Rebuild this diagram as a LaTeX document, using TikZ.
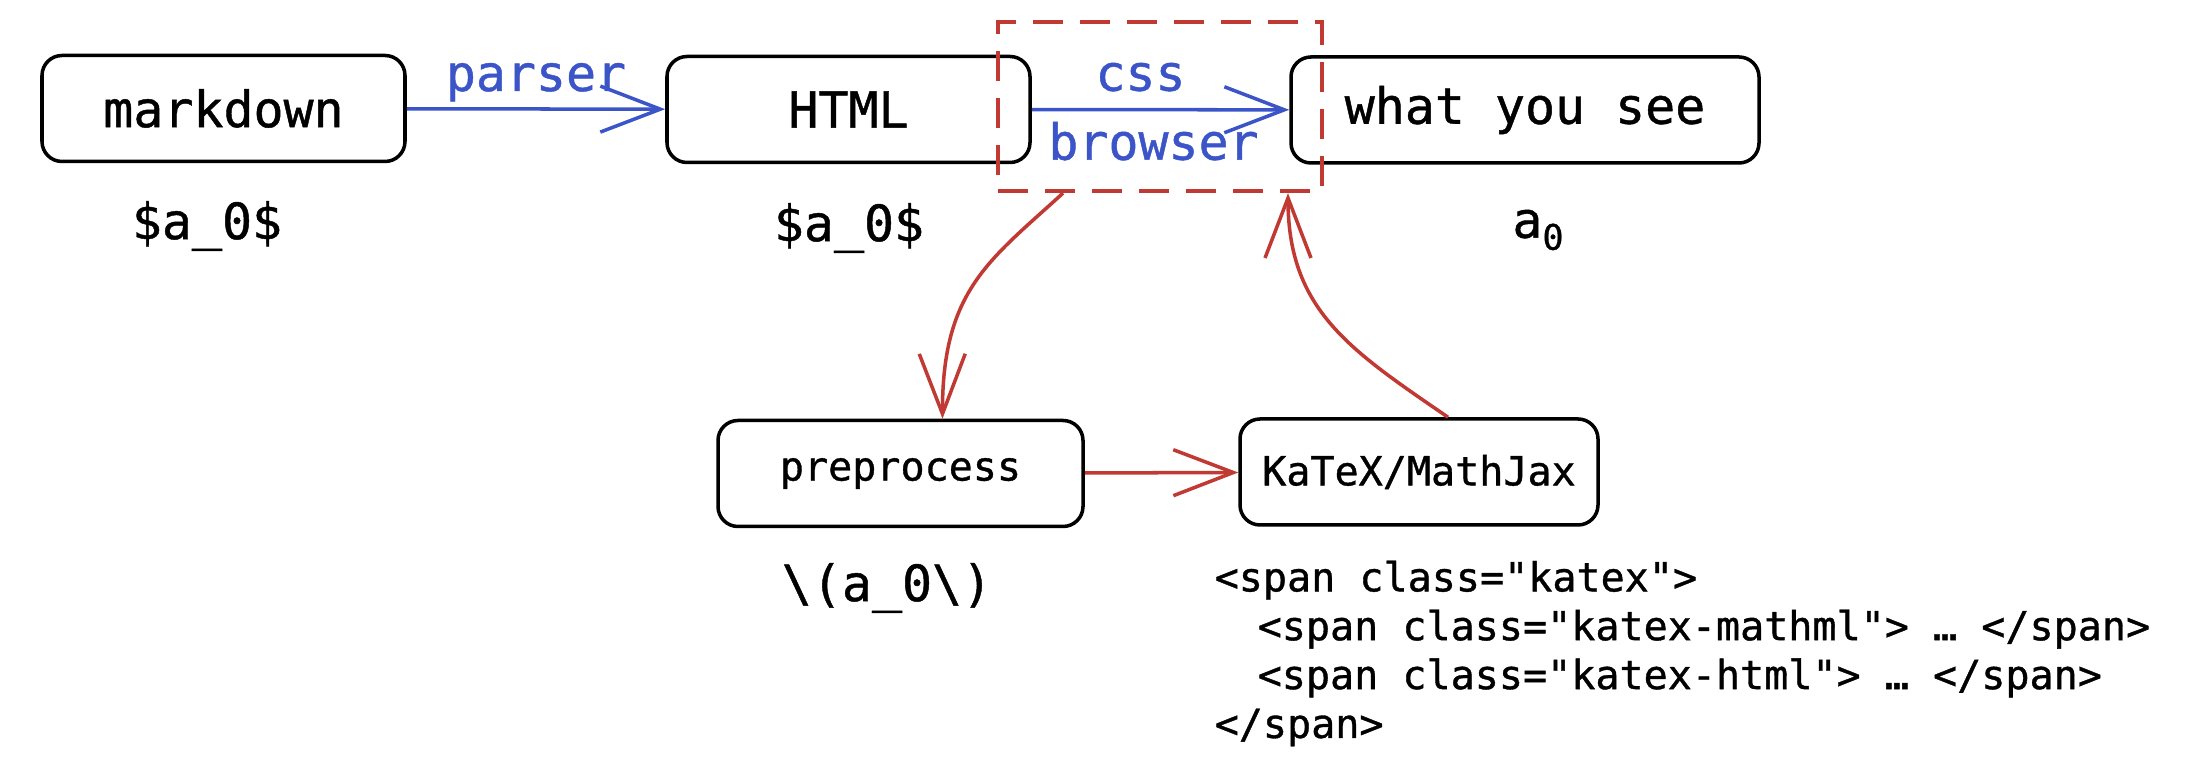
\documentclass[tikz,border=0pt]{standalone}
\usepackage{fontspec}
\newfontfamily\inkmono{DejaVu Sans Mono}[FakeBold=0.9]
\usetikzlibrary{arrows.meta}

\definecolor{inkblue}{RGB}{59,84,200}
\definecolor{inkred}{RGB}{192,57,50}
\newcommand{\bigmono}{\inkmono\fontsize{14.2}{17}\selectfont}
\newcommand{\smallmono}{\inkmono\fontsize{11.4}{13.9}\selectfont}

\begin{document}
\begin{tikzpicture}[
    x = 1cm, y = 1cm,
    stage/.style = {draw, line width=1pt, rounded corners=0.2cm, minimum height=1.06cm, font=\bigmono},
    substage/.style = {stage, font=\smallmono},
    flow/.style = {draw=inkblue, line width=1pt, -{Straight Barb[length=0.6cm, width=0.46cm]}},
    feed/.style = {draw=inkred, line width=1pt, -{Straight Barb[length=0.6cm, width=0.46cm]}},
    flowlabel/.style = {text=inkblue, font=\bigmono, anchor=base, inner sep=0pt},
    every label/.style = {font=\bigmono}]

\useasboundingbox (0,0) rectangle (22.02,-7.72);

% top row
\node[stage, minimum width=3.63cm] (markdown) at (2.235,-1.085) {markdown};
\node[stage, minimum width=3.63cm] (html) at (8.485,-1.095) {HTML};
\node[stage, minimum width=4.68cm] (see) at (15.25,-1.10) {what you see};

% bottom row
\node[substage, minimum width=3.65cm] (preprocess) at (9.005,-4.735) {preprocess};
\node[substage, minimum width=3.58cm] (katex) at (14.19,-4.72) {KaTeX/MathJax};

% what each stage holds
\node[font=\bigmono] (mdsrc) at (2.07,-2.26) {\$a\_0\$};
\node[font=\bigmono] (htmlsrc) at (8.49,-2.28) {\$a\_0\$};
\node[font=\bigmono] (seesrc) at (15.38,-2.30) {a\raisebox{-0.12cm}{\fontsize{10}{10}\selectfont 0}};
\node[font=\bigmono] (presrc) at (8.87,-5.88) {\textbackslash(a\_0\textbackslash)};
\node[font=\smallmono, align=left, anchor=west, inner sep=0pt] (katexsrc) at (12.14,-6.535)
    {<span class="katex">\\
     \hspace*{0.43cm}<span class="katex-mathml"> … </span>\\
     \hspace*{0.43cm}<span class="katex-html"> … </span>\\
     </span>};

% browser part
\node[draw=inkred, line width=1.2pt, dash pattern=on 0.3cm off 0.17cm,
      minimum width=3.24cm, minimum height=1.69cm] (render) at (11.60,-1.065) {};

\draw[flow] (markdown) -- node[flowlabel, yshift=0.18cm] {parser} (html);
\draw[flow] (html) -- node[flowlabel, xshift=-0.2cm, yshift=0.19cm] {css}
                      node[flowlabel, xshift=-0.07cm, yshift=-0.5cm] {browser} (see);

\draw[feed] ([xshift=-0.97cm]render.south) .. controls (9.9,-2.6) and (9.42,-2.9) .. ([xshift=0.42cm]preprocess.north);
\draw[feed] (preprocess) -- (katex);
\draw[feed] ([xshift=0.29cm]katex.north) .. controls (13.5,-3.5) and (12.88,-3.1) .. ([xshift=1.28cm]render.south);
\end{tikzpicture}
\end{document}
